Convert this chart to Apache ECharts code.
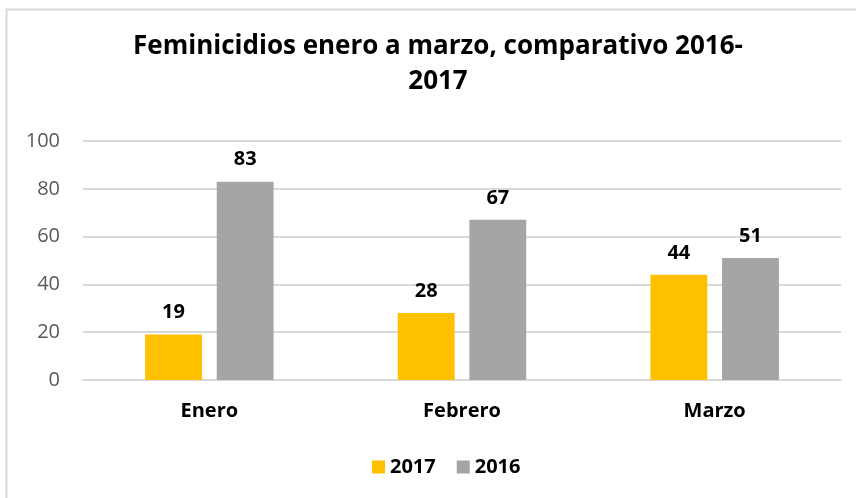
<!DOCTYPE html>
<html>
<head>
<meta charset="utf-8">
<script src="https://cdn.jsdelivr.net/npm/echarts@6/dist/echarts.min.js"></script>
<style>
  html, body { margin: 0; padding: 0; background: #fff; }
  #chart { width: 856px; height: 498px; }
</style>
</head>
<body>
<div id="chart"></div>
<script>
const months = ["Enero", "Febrero", "Marzo"];
const values2017 = [19, 28, 44];
const values2016 = [83, 67, 51];
const yTicks = [0, 20, 40, 60, 80, 100];

const chart = echarts.init(document.getElementById("chart"));

const labelStyle = {
  show: true,
  position: "top",
  distance: 12,
  fontFamily: "Open Sans",
  fontWeight: "bold",
  fontSize: 20,
  color: "#000"
};

chart.setOption({
  animation: false,
  textStyle: { fontFamily: "Open Sans" },
  graphic: [
    // frame of the chart area (top and left edges only visible)
    { type: "line", shape: { x1: 6, y1: 9.5, x2: 856, y2: 9.5 }, style: { stroke: "#d9d9d9", lineWidth: 2 } },
    { type: "line", shape: { x1: 6.5, y1: 9, x2: 6.5, y2: 498 }, style: { stroke: "#d9d9d9", lineWidth: 2 } }
  ],
  title: {
    text: "Feminicidios enero a marzo, comparativo 2016-\n2017",
    left: 433,
    textAlign: "center",
    top: 24,
    textStyle: {
      fontFamily: "Open Sans",
      fontWeight: "bold",
      fontSize: 26,
      lineHeight: 35,
      color: "#000"
    }
  },
  legend: {
    top: 452,
    left: 367,
    itemWidth: 13,
    itemHeight: 13,
    itemGap: 21,
    icon: "rect",
    textStyle: { fontFamily: "Open Sans", fontWeight: "bold", fontSize: 20, color: "#000" },
    data: ["2017", "2016"]
  },
  grid: { left: 83, right: 15, top: 141, bottom: 118 },
  xAxis: {
    type: "category",
    data: months,
    axisTick: { show: false },
    axisLine: { lineStyle: { color: "#d9d9d9", width: 2 } },
    axisLabel: {
      margin: 21,
      fontFamily: "Open Sans",
      fontWeight: "bold",
      fontSize: 20,
      color: "#000"
    }
  },
  yAxis: {
    type: "value",
    min: yTicks[0],
    max: yTicks[yTicks.length - 1],
    interval: yTicks[1] - yTicks[0],
    axisLine: { show: false },
    axisTick: { show: false },
    splitLine: { lineStyle: { color: "#d9d9d9", width: 2 } },
    axisLabel: { margin: 23, fontFamily: "Open Sans", fontSize: 20, color: "#595959" }
  },
  series: [
    {
      name: "2017",
      type: "bar",
      data: values2017,
      barWidth: "22.5%",
      barGap: "26%",
      itemStyle: { color: "#FFC000" },
      label: labelStyle
    },
    {
      name: "2016",
      type: "bar",
      data: values2016,
      barWidth: "22.5%",
      itemStyle: { color: "#A5A5A5" },
      label: labelStyle
    }
  ]
});
</script>
</body>
</html>
